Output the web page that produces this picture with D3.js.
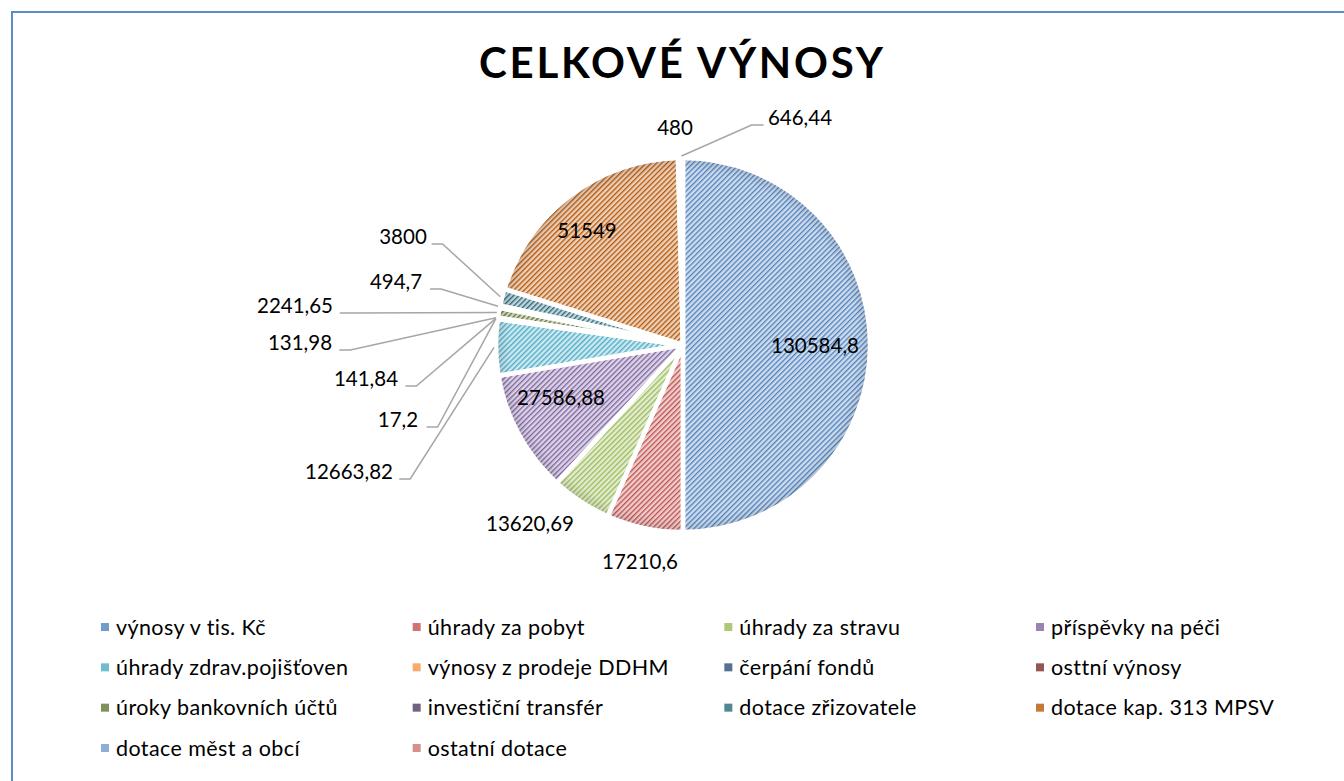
<!DOCTYPE html>
<html>
<head>
  <meta charset="utf-8">
  <title>Celkové výnosy</title>
  <script src="https://cdn.jsdelivr.net/npm/d3@7"></script>
  <style>
    body { margin: 0; background: #fff; }
    text { font-family: Lato, "Open Sans", sans-serif; fill: #000; }
  </style>
</head>
<body>
  <script>
    const categories = [
      "výnosy v tis. Kč", "úhrady za pobyt", "úhrady za stravu", "příspěvky na péči",
      "úhrady zdrav.pojišťoven", "výnosy z prodeje DDHM", "čerpání fondů", "osttní výnosy",
      "úroky bankovních účtů", "investiční transfér", "dotace zřizovatele", "dotace kap. 313 MPSV",
      "dotace měst a obcí", "ostatní dotace"
    ]
    const values = [130584.8, 17210.6, 13620.69, 27586.88, 12663.82, 17.2, 141.84, 131.98,
      2241.65, 494.7, 3800, 51549, 480, 646.44]
    const valueLabels = ["130584,8", "17210,6", "13620,69", "27586,88", "12663,82", "17,2", "141,84",
      "131,98", "2241,65", "494,7", "3800", "51549", "480", "646,44"]
    const colors = ["#4F81BD", "#C0504D", "#9BBB59", "#8064A2", "#4BACC6", "#F79646", "#2C4D75",
      "#772C2A", "#5F7530", "#4D3B62", "#276A7C", "#B65708", "#729ACA", "#CD7371"]

    // label placement relative to pie centre (text centre), leader: 'L' left, 'R' right, null none
    const labelPos = [[132, 1], [-43, 217], [-153, 179], [-122, 53], [-334, 127], [-285, 75], [-317, 34],
      [-383, -2], [-388, -39], [-287, -63], [-280, -108], [-96, -114], [-8, -217], [117, -227]]
    const leaders = [null, null, null, null, 'L', 'L', 'L', 'L', 'L', 'L', 'L', null, null, 'R']

    const width = 1344, height = 781
    const cx = 683, cy = 345, radius = 187

    const svg = d3.select('body').append('svg')
      .attr('width', width)
      .attr('height', height)

    // frame
    svg.append('rect')
      .attr('x', 12).attr('y', 12)
      .attr('width', width + 20).attr('height', height + 20)
      .attr('fill', 'none')
      .attr('stroke', '#5B8BC9')
      .attr('stroke-width', 2)

    // hatch patterns
    const defs = svg.append('defs')
    colors.forEach((c, i) => {
      const p = defs.append('pattern')
        .attr('id', 'hatch' + i)
        .attr('patternUnits', 'userSpaceOnUse')
        .attr('width', 3.7).attr('height', 3.7)
        .attr('patternTransform', 'rotate(45)')
      p.append('rect').attr('width', 3.7).attr('height', 3.7)
        .attr('fill', d3.interpolateRgb(c, '#fff')(0.72))
      p.append('rect').attr('width', 1.3).attr('height', 3.7)
        .attr('fill', c)
    })
    // soft darker rim like the reference
    const rim = defs.append('radialGradient').attr('id', 'rim')
      .attr('gradientUnits', 'userSpaceOnUse')
      .attr('cx', 0).attr('cy', 0).attr('r', radius)
    rim.append('stop').attr('offset', '0.93').attr('stop-color', '#000').attr('stop-opacity', 0)
    rim.append('stop').attr('offset', '1').attr('stop-color', '#000').attr('stop-opacity', 0.12)

    svg.append('text')
      .attr('x', 681).attr('y', 78)
      .attr('text-anchor', 'middle')
      .attr('font-size', 42)
      .attr('font-weight', 'bold')
      .attr('textLength', 404)
      .attr('lengthAdjust', 'spacing')
      .text('CELKOVÉ VÝNOSY')

    const pie = d3.pie().sort(null).value(d => d)
    const arcs = pie(values)
    const arc = d3.arc().innerRadius(0).outerRadius(radius)

    const g = svg.append('g').attr('transform', `translate(${cx},${cy})`)

    g.selectAll('path.slice')
      .data(arcs)
      .enter()
      .append('path')
      .attr('class', 'slice')
      .attr('d', arc)
      .attr('fill', (d, i) => `url(#hatch${i})`)

    g.selectAll('path.shade')
      .data(arcs)
      .enter()
      .append('path')
      .attr('class', 'shade')
      .attr('d', arc)
      .attr('fill', 'url(#rim)')
      .attr('stroke', '#fff')
      .attr('stroke-width', 4.5)
      .attr('stroke-linejoin', 'round')

    // leader lines
    arcs.forEach((a, i) => {
      if (!leaders[i]) return
      const mid = (a.startAngle + a.endAngle) / 2
      const px = Math.sin(mid) * (radius + 2), py = -Math.cos(mid) * (radius + 2)
      const [lx, ly] = labelPos[i]
      const w = valueLabels[i].length * 10.8
      let x0, x1
      if (leaders[i] === 'L') { x0 = lx + w / 2 + 7; x1 = x0 + 11 } else { x0 = lx - w / 2 - 4; x1 = x0 - 12 }
      g.append('polyline')
        .attr('points', `${x0},${ly + 7} ${x1},${ly + 7} ${px},${py}`)
        .attr('fill', 'none')
        .attr('stroke', '#A6A6A6')
        .attr('stroke-width', 1.5)
    })

    g.selectAll('text.val')
      .data(arcs)
      .enter()
      .append('text')
      .attr('class', 'val')
      .attr('x', (d, i) => labelPos[i][0])
      .attr('y', (d, i) => labelPos[i][1])
      .attr('dy', '0.35em')
      .attr('text-anchor', 'middle')
      .attr('font-size', 20.5)
      .text((d, i) => valueLabels[i])

    // legend
    const legend = svg.append('g')
    const colX = d3.scaleLinear().domain([0, 3]).range([101, 1036])
    const rowY = d3.scaleLinear().domain([0, 3]).range([627, 748])
    const item = legend.selectAll('g')
      .data(categories)
      .enter()
      .append('g')
      .attr('transform', (d, i) => `translate(${colX(i % 4)},${rowY(Math.floor(i / 4))})`)
    item.append('rect')
      .attr('x', 0).attr('y', -4)
      .attr('width', 8).attr('height', 8)
      .attr('fill', (d, i) => colors[i])
      .attr('opacity', 0.8)
    item.append('text')
      .attr('x', 15)
      .attr('dy', '0.35em')
      .attr('font-size', 21.5)
      .attr('letter-spacing', 0.4)
      .text(d => d)
  </script>
</body>
</html>
